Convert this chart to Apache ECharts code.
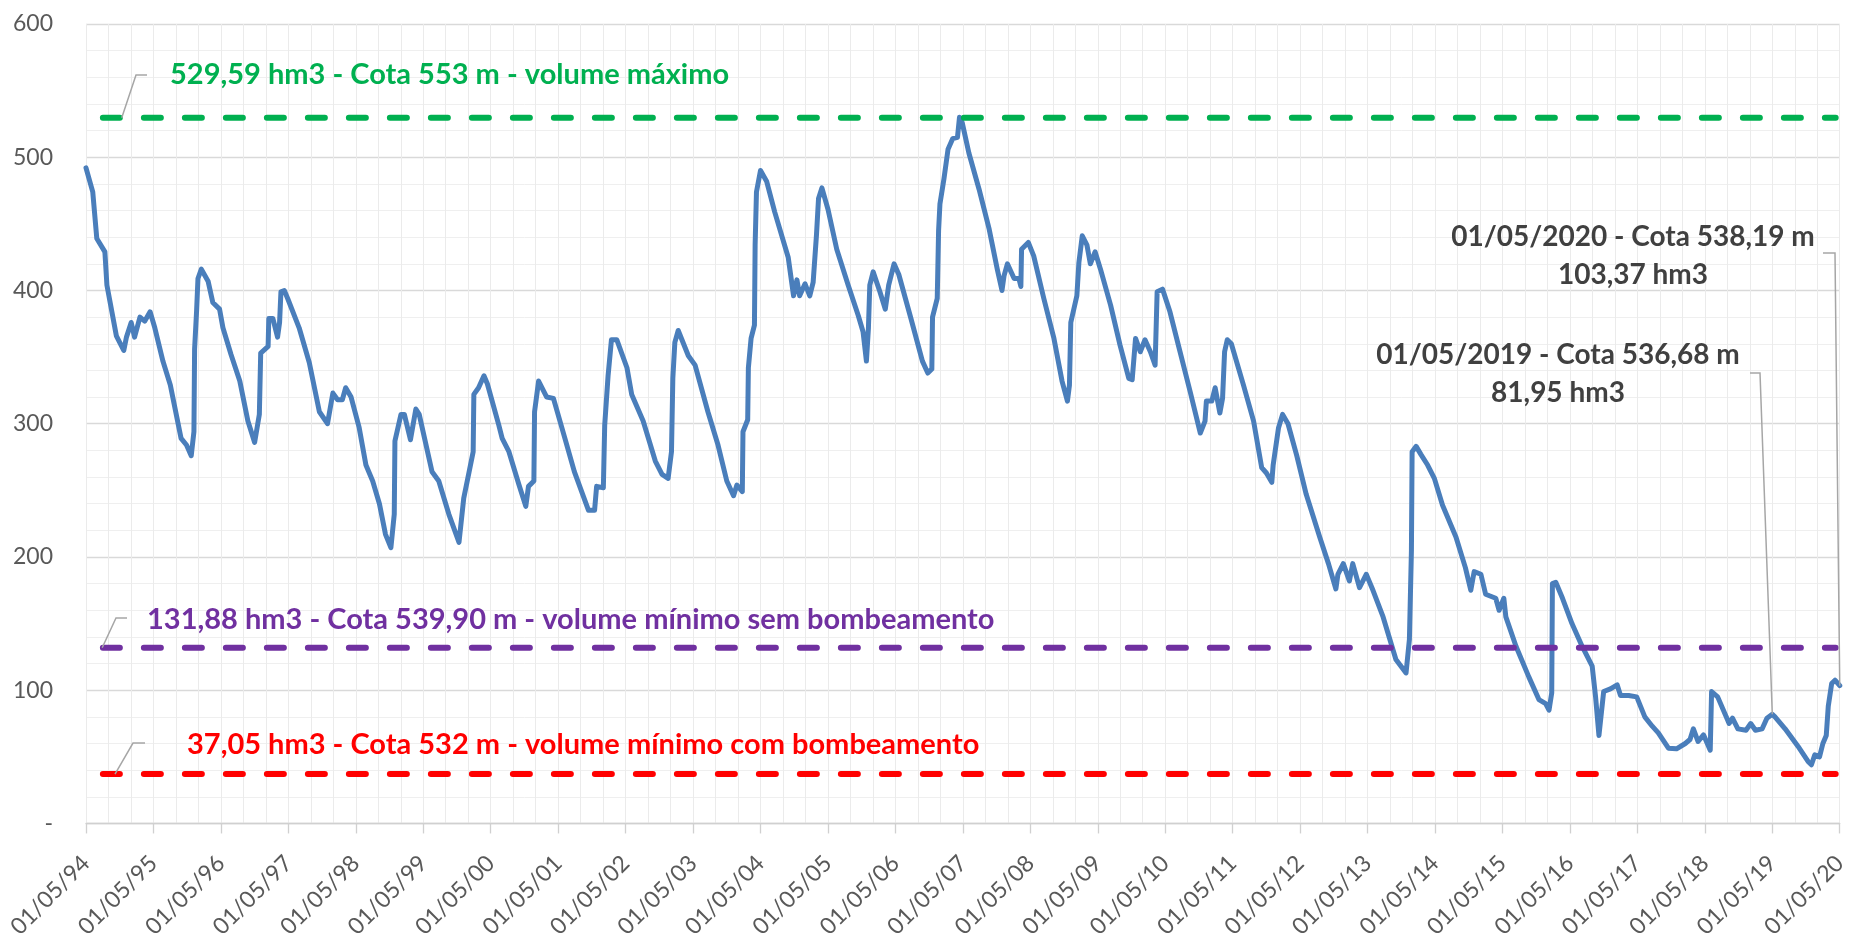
<!DOCTYPE html>
<html>
<head>
<meta charset="utf-8">
<script src="https://cdn.jsdelivr.net/npm/echarts@6/dist/echarts.min.js"></script>
<style>
html,body{margin:0;padding:0;background:#fff;}
#chart{width:1850px;height:941px;}
</style>
</head>
<body>
<div id="chart"></div>
<script>
// ---- DATA ----
const xTickLabels = ['01/05/94','01/05/95','01/05/96','01/05/97','01/05/98','01/05/99','01/05/00','01/05/01','01/05/02','01/05/03','01/05/04','01/05/05','01/05/06','01/05/07','01/05/08','01/05/09','01/05/10','01/05/11','01/05/12','01/05/13','01/05/14','01/05/15','01/05/16','01/05/17','01/05/18','01/05/19','01/05/20'];
const yTickLabels = ['-','100','200','300','400','500','600'];

// dates as decimal years (1994.33 = 01/05/1994)
const decimalYear = [
1994.33,1994.43,1994.49,1994.61,1994.64,1994.78,1994.89,1994.93,1995.00,1995.05,1995.13,1995.20,1995.28,1995.35,1995.47,1995.58,1995.74,1995.82,1995.89,1995.93,
1995.94,1995.97,1995.99,1996.04,1996.14,1996.21,1996.31,1996.36,1996.48,1996.61,1996.73,1996.83,1996.90,1996.92,1997.03,1997.04,1997.10,1997.17,1997.20,1997.22,
1997.27,1997.32,1997.49,1997.64,1997.79,1997.91,1997.99,1998.06,1998.13,1998.18,1998.26,1998.38,1998.48,1998.58,1998.68,1998.77,1998.85,1998.90,1998.91,1999.00,
1999.05,1999.14,1999.22,1999.27,1999.46,1999.56,1999.71,1999.86,1999.93,2000.01,2000.07,2000.08,2000.15,2000.23,2000.28,2000.45,2000.50,2000.60,2000.75,2000.85,
2000.89,2000.97,2000.98,2001.04,2001.16,2001.26,2001.43,2001.57,2001.78,2001.87,2001.90,2002.00,2002.02,2002.07,2002.12,2002.20,2002.35,2002.42,2002.59,2002.77,
2002.87,2002.96,2003.01,2003.03,2003.06,2003.11,2003.26,2003.36,2003.55,2003.70,2003.83,2003.93,2003.98,2004.06,2004.07,2004.14,2004.15,2004.19,2004.24,2004.25,
2004.27,2004.33,2004.42,2004.54,2004.74,2004.82,2004.87,2004.91,2004.99,2005.06,2005.11,2005.16,2005.19,2005.24,2005.33,2005.46,2005.63,2005.78,2005.85,2005.90,
2005.93,2005.95,2006.00,2006.10,2006.18,2006.23,2006.31,2006.38,2006.56,2006.73,2006.81,2006.87,2006.88,2006.95,2006.97,2006.99,2007.05,2007.11,2007.18,2007.25,
2007.28,2007.32,2007.42,2007.57,2007.72,2007.84,2007.91,2007.94,2007.99,2008.09,2008.16,2008.19,2008.20,2008.30,2008.38,2008.53,2008.68,2008.80,2008.88,2008.91,
2008.93,2009.02,2009.05,2009.10,2009.17,2009.22,2009.29,2009.37,2009.52,2009.66,2009.79,2009.84,2009.89,2009.96,2010.03,2010.11,2010.18,2010.21,2010.29,2010.40,
2010.55,2010.70,2010.85,2010.92,2010.94,2011.02,2011.07,2011.14,2011.18,2011.21,2011.25,2011.31,2011.49,2011.64,2011.76,2011.83,2011.91,2011.93,2012.01,2012.07,
2012.15,2012.28,2012.42,2012.62,2012.75,2012.86,2012.89,2012.97,2013.06,2013.11,2013.21,2013.31,2013.41,2013.56,2013.75,2013.90,2013.95,2013.98,2013.99,2014.05,
2014.12,2014.22,2014.32,2014.44,2014.64,2014.78,2014.86,2014.91,2015.01,2015.08,2015.23,2015.28,2015.35,2015.38,2015.53,2015.72,2015.87,2015.97,2016.02,2016.06,
2016.07,2016.12,2016.22,2016.36,2016.51,2016.66,2016.71,2016.76,2016.83,2016.93,2017.03,2017.08,2017.20,2017.32,2017.44,2017.55,2017.64,2017.79,2017.91,2018.04,
2018.11,2018.16,2018.23,2018.31,2018.41,2018.43,2018.52,2018.69,2018.74,2018.82,2018.94,2019.01,2019.08,2019.18,2019.25,2019.33,2019.37,2019.52,2019.71,2019.86,
2019.91,2019.96,2020.03,2020.08,2020.13,2020.16,2020.21,2020.26,2020.33
];
// stored volume, hm3
const volumeHm3 = [
492,474,439,429,404,366,355,365,376,365,380,377,384,372,347,329,289,284,276,294,
356,385,409,416,407,391,386,372,352,332,302,286,307,353,358,379,379,365,376,399,
400,394,372,346,309,300,323,318,318,327,320,297,269,257,240,217,207,232,287,307,
307,288,311,307,264,257,232,211,244,264,279,322,327,336,330,299,289,279,254,238,
253,257,309,332,320,319,289,264,235,235,253,252,299,336,363,363,342,322,302,272,
262,259,279,334,361,370,351,344,309,284,257,246,254,249,294,303,342,364,374,434,
474,490,482,459,425,396,408,396,405,396,406,442,469,477,461,431,404,381,369,347,
372,404,414,399,386,404,420,412,379,347,338,341,380,394,445,465,484,506,514,515,
530,526,503,476,446,416,400,411,420,409,409,403,431,436,426,394,364,332,317,329,
376,396,421,441,434,420,429,416,389,359,334,333,364,354,363,354,344,399,401,384,
354,324,293,302,317,317,327,308,319,354,363,360,329,302,267,263,256,269,297,307,
300,276,247,215,195,176,187,195,182,195,177,187,175,155,123,113,138,205,279,283,
277,269,259,239,215,192,175,189,187,172,169,160,169,155,133,110,93,90,85,98,
180,181,169,150,133,118,95,66,99,101,104,96,96,95,80,73,68,56.5,56,60,
63,71,61.5,66.5,55,99,95,75,79,71,70,75,70,71,79,81.95,80,71,58,46.5,
44,51.5,50,60,66,88,105,107.5,103.37
];

// reference levels
const refNames  = ['volume máximo','volume mínimo sem bombeamento','volume mínimo com bombeamento'];
const refLevels = [529.59, 131.88, 37.05];
const refColors = ['#00B050','#7030A0','#FF0000'];
const refFrom = 1994.58, refTo = 2020.27;

// annotation texts
const refLabels = [
  '529,59 hm3 - Cota 553 m - volume máximo',
  '131,88 hm3 - Cota 539,90 m - volume mínimo sem bombeamento',
  '37,05 hm3 - Cota 532 m - volume mínimo com bombeamento'
];
const pointLabels = [
  ['01/05/2020 - Cota 538,19 m', '103,37 hm3'],
  ['01/05/2019 - Cota 536,68 m', '81,95 hm3']
];
const pointDates = [2020.33, 2019.33];
const pointValues = [103.37, 81.95];

// ---- CHART ----
const axisStart = 1994.33;
const toX = d => +(d - axisStart).toFixed(4);
const mainData = decimalYear.map((d, i) => [toX(d), volumeHm3[i]]);

const chart = echarts.init(document.getElementById('chart'));
const FONT = 'Lato, "Open Sans", sans-serif';

const refSeries = refLevels.map((lv, i) => ({
  name: refNames[i],
  type: 'line',
  data: [[toX(refFrom), lv], [toX(refTo), lv]],
  showSymbol: false,
  symbol: 'none',
  silent: true,
  z: 3,
  lineStyle: { color: refColors[i], width: 6, type: [17, 24], cap: 'round' }
}));

chart.setOption({
  animation: false,
  backgroundColor: '#fff',
  grid: { left: 86, right: 5, top: 24, bottom: 114, containLabel: false },
  xAxis: {
    type: 'value', min: 0, max: 26, interval: 1,
    axisLine: { show: true, onZero: false, lineStyle: { color: '#d0d0d0', width: 1.3 } },
    axisTick: { show: true, length: 10, lineStyle: { color: '#d0d0d0', width: 1.3 } },
    minorTick: { show: false, splitNumber: 3 },
    splitLine: { show: true, lineStyle: { color: '#ebebeb', width: 1 } },
    minorSplitLine: { show: true, lineStyle: { color: '#ebebeb', width: 1 } },
    axisLabel: {
      rotate: 45, margin: 36, color: '#595959', fontFamily: FONT, fontSize: 23,
      formatter: v => xTickLabels[Math.round(v)] || ''
    }
  },
  yAxis: {
    type: 'value', min: 0, max: 600, interval: 100,
    axisLine: { show: false }, axisTick: { show: false },
    minorTick: { show: false, splitNumber: 5 },
    splitLine: { show: true, lineStyle: { color: '#d9d9d9', width: 1.3 } },
    minorSplitLine: { show: true, lineStyle: { color: '#efefef', width: 1 } },
    axisLabel: {
      margin: 33, color: '#595959', fontFamily: FONT, fontSize: 23,
      formatter: v => yTickLabels[Math.round(v / 100)]
    }
  },
  series: [{
    name: 'Volume',
    type: 'line',
    data: mainData,
    showSymbol: false,
    symbol: 'none',
    z: 2,
    lineStyle: { color: '#4A7EBB', width: 5, join: 'round', cap: 'round' }
  }].concat(refSeries)
});

// ---- annotations ----
function px(d, v) { return chart.convertToPixel({ gridIndex: 0 }, [toX(d), v]); }
const leaderStyle = { stroke: '#a6a6a6', lineWidth: 1.5, fill: null };
const g = [];

// reference-line labels
const refLabelPos = [ {x: 170, y: 75, ax: 0.53, bend: [136, 75], end: [147, 75]},
                      {x: 147, y: 620, ax: 0.24, bend: [116, 618], end: [127, 618]},
                      {x: 187, y: 745, ax: 0.43, bend: [133, 743], end: [145, 743]} ];
const refFontSize = [29, 29, 29];
refLabelPos.forEach((p, i) => {
  const a = px(axisStart + p.ax, refLevels[i]);
  g.push({ type: 'polyline', silent: true, z: 10, shape: { points: [a, p.bend, p.end] }, style: leaderStyle });
  g.push({ type: 'text', silent: true, z: 10, style: {
    text: refLabels[i], x: p.x, y: p.y, fill: refColors[i],
    font: 'bold ' + refFontSize[i] + 'px ' + FONT,
    align: 'left', verticalAlign: 'middle', textAlign: 'left', textVerticalAlign: 'middle' } });
});

// point annotations
const ptPos = [ {cx: 1633, y1: 237, y2: 275, bend: [1823, 253], corner: [1835, 253]},
                {cx: 1558, y1: 355, y2: 393, bend: [1750, 373], corner: [1760, 373]} ];
ptPos.forEach((p, i) => {
  const a = px(pointDates[i], pointValues[i]);
  g.push({ type: 'polyline', silent: true, z: 10, shape: { points: [p.bend, p.corner, a] }, style: leaderStyle });
  [p.y1, p.y2].forEach((yy, k) => {
    g.push({ type: 'text', silent: true, z: 10, style: {
      text: pointLabels[i][k], x: p.cx, y: yy, fill: '#404040',
      font: 'bold 28px ' + FONT,
      align: 'center', verticalAlign: 'middle', textAlign: 'center', textVerticalAlign: 'middle' } });
  });
});

chart.setOption({ graphic: { elements: g } });
</script>
</body>
</html>
